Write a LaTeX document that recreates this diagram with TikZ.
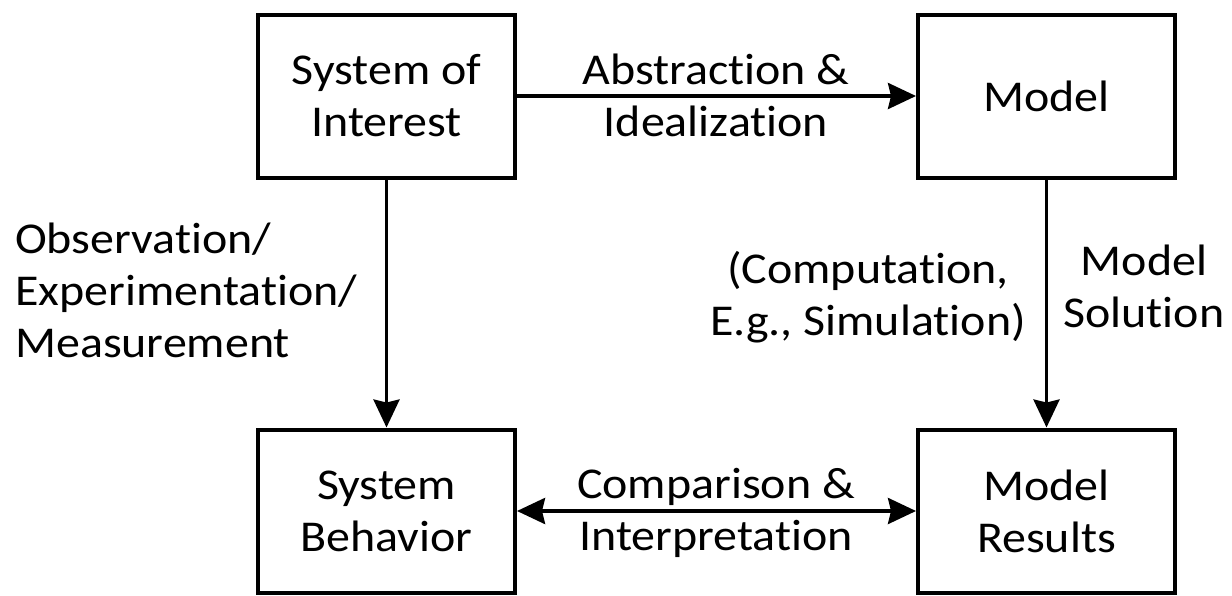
\documentclass[tikz,border=0pt]{standalone}
\usepackage{fontspec}
\setmainfont[Ligatures=NoCommon, FakeStretch=1.09]{Carlito}
\usetikzlibrary{arrows.meta}
\begin{document}
\begin{tikzpicture}[x=1pt,y=-1pt,
  every node/.style={font=\fontsize{44}{52}\selectfont, inner sep=0pt},
  blockbox/.style={draw, line width=4pt, minimum width=257pt, minimum height=163pt, align=center},
  flow/.style={line width=3.6pt, -{Stealth[length=28pt,width=26pt,inset=3pt]}},
  twoway/.style={line width=3.6pt, {Stealth[length=28pt,width=26pt,inset=3pt]}-{Stealth[length=28pt,width=26pt,inset=3pt]}},
  lbl/.style={align=center}]
  \useasboundingbox (0,0) rectangle (1232,595);

  % the four blocks
  \node[blockbox] (soi) at (386.5,96) {System of\\Interest};
  \node[blockbox] (model) at (1046.5,96) {Model};
  \node[blockbox] (beh) at (386.5,511) {System\\Behavior};
  \node[blockbox] (res) at (1046.5,511) {Model\\Results};

  % connectors
  \draw[flow] (soi.east) -- (model.west);
  \draw[flow] (soi.south) -- (beh.north);
  \draw[flow] (model.south) -- (res.north);
  \draw[twoway] (beh.east) -- (res.west);

  % connector labels
  \node[lbl] (absl) at (716,95) {Abstraction \&\\Idealization};
  \node[lbl] (cmpl) at (716,513) {Comparison \&\\Interpretation};
  \node[align=left, anchor=west] (obsl) at (15,290) {Observation/\\Experimentation/\\Measurement};
  \node[lbl] (compl) at (868,297) {(Computation,\\E.g., Simulation)};
  \node[lbl] (soll) at (1144,286) {Model\\Solution};
\end{tikzpicture}
\end{document}
